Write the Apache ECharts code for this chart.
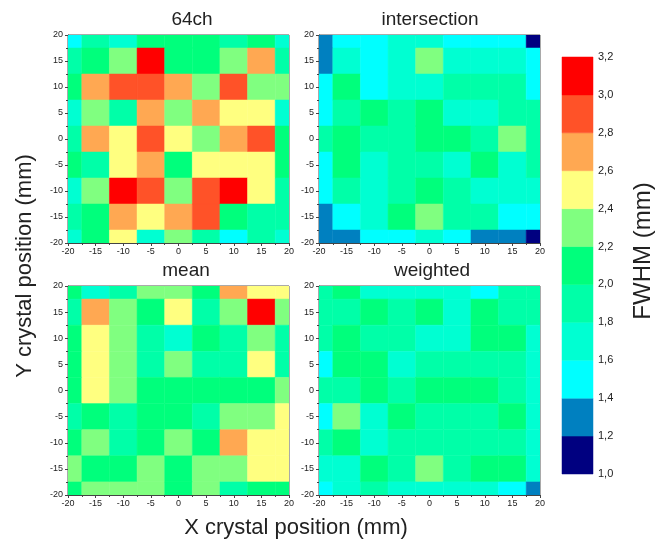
<!DOCTYPE html>
<html>
<head>
<meta charset="utf-8">
<title>FWHM maps</title>
<script src="https://cdn.jsdelivr.net/npm/echarts@6/dist/echarts.min.js"></script>
<style>
  html, body { margin: 0; padding: 0; background: #fff; }
  #chart { width: 655px; height: 539px; }
</style>
</head>
<body>
<div id="chart"></div>
<script>
// crystal positions (mm), rows are listed top (y=20) to bottom (y=-20)
const xPos = [-20, -15, -10, -5, 0, 5, 10, 15, 20];
const yPos = [20, 15, 10, 5, 0, -5, -10, -15, -20];

// FWHM (mm)
const fwhm64ch = [
  [1.5, 1.9, 1.7, 2.1, 2.1, 2.1, 1.9, 2.1, 1.7],
  [1.9, 2.1, 2.3, 3.1, 2.1, 2.1, 2.3, 2.7, 1.9],
  [2.1, 2.7, 2.9, 2.9, 2.7, 2.3, 2.9, 2.3, 2.3],
  [1.7, 2.3, 1.9, 2.7, 2.3, 2.7, 2.5, 2.5, 1.7],
  [1.9, 2.7, 2.5, 2.9, 2.5, 2.3, 2.7, 2.9, 2.1],
  [2.1, 1.9, 2.5, 2.7, 2.1, 2.5, 2.5, 2.5, 2.1],
  [1.7, 2.3, 3.1, 2.9, 2.3, 2.9, 3.1, 2.5, 1.9],
  [1.9, 2.1, 2.7, 2.5, 2.7, 2.9, 2.1, 1.9, 1.9],
  [1.7, 2.1, 2.5, 1.7, 2.3, 1.9, 1.5, 1.9, 1.7]
];
const fwhmIntersection = [
  [1.3, 1.5, 1.5, 1.7, 1.7, 1.5, 1.5, 1.5, 1.1],
  [1.3, 1.7, 1.5, 1.7, 2.3, 1.7, 1.7, 1.7, 1.5],
  [1.5, 2.1, 1.5, 1.7, 1.7, 1.9, 1.9, 1.9, 1.5],
  [1.5, 1.9, 2.1, 1.9, 2.1, 1.7, 1.7, 1.9, 1.9],
  [1.9, 2.1, 1.9, 1.9, 2.1, 2.1, 1.9, 2.3, 1.9],
  [1.5, 2.1, 1.7, 1.9, 1.9, 1.7, 2.1, 1.7, 1.9],
  [1.5, 1.9, 1.7, 1.9, 2.1, 1.9, 1.7, 1.7, 1.7],
  [1.3, 1.5, 1.7, 2.1, 2.3, 1.9, 1.9, 1.5, 1.5],
  [1.3, 1.3, 1.5, 1.5, 1.7, 1.5, 1.3, 1.3, 1.1]
];
const fwhmMean = [
  [2.1, 1.7, 1.9, 2.3, 2.3, 2.1, 2.7, 2.5, 2.5],
  [1.9, 2.7, 2.3, 2.1, 2.5, 1.9, 2.3, 3.1, 2.3],
  [2.1, 2.5, 2.3, 1.9, 1.7, 2.1, 1.9, 2.3, 1.9],
  [2.1, 2.5, 2.3, 1.9, 2.3, 1.9, 1.9, 2.5, 1.9],
  [2.1, 2.5, 2.3, 2.1, 2.1, 2.1, 2.1, 2.1, 2.3],
  [1.9, 2.1, 1.9, 2.1, 2.1, 1.9, 2.3, 2.3, 2.5],
  [2.1, 2.3, 1.9, 2.1, 2.3, 2.1, 2.7, 2.5, 2.5],
  [2.3, 2.1, 2.1, 2.3, 2.1, 2.3, 2.3, 2.5, 2.5],
  [2.1, 2.3, 2.3, 2.3, 2.1, 2.3, 1.9, 2.1, 2.1]
];
const fwhmWeighted = [
  [1.9, 2.1, 1.7, 1.7, 1.7, 1.7, 1.5, 1.9, 1.9],
  [1.9, 1.9, 2.1, 1.9, 2.1, 1.7, 2.1, 1.9, 1.9],
  [1.9, 2.1, 1.9, 1.9, 1.7, 1.7, 2.1, 2.1, 1.7],
  [1.5, 2.1, 2.1, 1.7, 1.9, 1.9, 1.9, 1.9, 1.7],
  [1.9, 1.9, 2.1, 1.9, 2.1, 2.1, 2.1, 1.9, 1.7],
  [1.5, 2.3, 1.7, 2.1, 1.9, 1.9, 1.9, 2.1, 1.7],
  [1.9, 2.1, 1.7, 1.9, 1.9, 1.9, 1.9, 1.9, 1.7],
  [1.7, 1.7, 2.1, 1.9, 2.3, 1.9, 2.1, 2.1, 1.7],
  [1.5, 1.7, 1.9, 1.7, 1.7, 1.7, 1.7, 1.5, 1.3]
];

const panelNames = ['64ch', 'intersection', 'mean', 'weighted'];
const panelData = [fwhm64ch, fwhmIntersection, fwhmMean, fwhmWeighted];

// colour scale levels and band colours
const levels = [1.0, 1.2, 1.4, 1.6, 1.8, 2.0, 2.2, 2.4, 2.6, 2.8, 3.0, 3.2];
const bandColors = ['#000080', '#0080c0', '#00ffff', '#00ffd2', '#00ffa8', '#00ff7c',
                    '#80ff80', '#ffff80', '#ffa852', '#ff5228', '#ff0000'];

const FONT = '"Liberation Sans", Arial, sans-serif';
const cellSize = 5;

const grids = [
  {left: 68, top: 35, width: 221, height: 208},
  {left: 319, top: 35, width: 221, height: 208},
  {left: 68, top: 286, width: 221, height: 209},
  {left: 319, top: 286, width: 221, height: 209}
];

function toCells(rows) {
  let out = [];
  rows.forEach(function (row, r) {
    row.forEach(function (v, c) {
      out.push([xPos[c], yPos[r], v]);
    });
  });
  return out;
}

function renderCell(params, api) {
  let x = api.value(0), y = api.value(1);
  let p1 = api.coord([x - cellSize / 2, y + cellSize / 2]);
  let p2 = api.coord([x + cellSize / 2, y - cellSize / 2]);
  let cs = params.coordSys;
  let rect = echarts.graphic.clipRectByRect(
    {x: p1[0], y: p1[1], width: p2[0] - p1[0], height: p2[1] - p1[1]},
    {x: cs.x, y: cs.y, width: cs.width, height: cs.height}
  );
  if (!rect) return;
  let color = api.visual('color');
  return {type: 'rect', shape: rect, style: {fill: color, stroke: color, lineWidth: 0.5}};
}

function renderBand(params, api) {
  let p1 = api.coord([0, api.value(1)]);
  let p2 = api.coord([1, api.value(0)]);
  let color = api.visual('color');
  return {type: 'rect', shape: {x: p1[0], y: p1[1], width: p2[0] - p1[0], height: p2[1] - p1[1]},
          style: {fill: color, stroke: color, lineWidth: 0.5}};
}

let gridOpts = [], xAxes = [], yAxes = [], series = [];
grids.forEach(function (g, i) {
  gridOpts.push(Object.assign({show: true, borderColor: '#555', borderWidth: 1,
                               backgroundColor: 'transparent'}, g));
  let axisCommon = {
    type: 'value', gridIndex: i, min: -20, max: 20, interval: 5,
    axisLine: {show: true, onZero: false, lineStyle: {color: '#444', width: 1}},
    axisTick: {show: true, length: 3, lineStyle: {color: '#444'}},
    minorTick: {show: true, splitNumber: 2, length: 2, lineStyle: {color: '#444'}},
    splitLine: {show: false},
    axisLabel: {fontSize: 9, fontFamily: FONT, color: '#222', margin: 4}
  };
  xAxes.push(Object.assign({}, axisCommon));
  yAxes.push(Object.assign({}, axisCommon, {axisLabel: Object.assign({}, axisCommon.axisLabel, {margin: 5})}));
  series.push({
    name: panelNames[i], type: 'custom', xAxisIndex: i, yAxisIndex: i,
    renderItem: renderCell, data: toCells(panelData[i]), clip: true, silent: true
  });
});

// colour bar
gridOpts.push({left: 562, top: 57, width: 31, height: 417, show: false});
xAxes.push({type: 'value', gridIndex: 4, min: 0, max: 1, show: false});
yAxes.push({
  type: 'value', gridIndex: 4, position: 'right', min: 1, max: 3.2, interval: 0.2,
  axisLine: {show: false}, axisTick: {show: false}, splitLine: {show: false},
  axisLabel: {fontSize: 11, fontFamily: FONT, color: '#222', margin: 5,
              formatter: function (v) { return v.toFixed(1).replace('.', ','); }}
});
let bands = [];
for (let i = 0; i < levels.length - 1; i++) {
  bands.push([levels[i], levels[i + 1], (levels[i] + levels[i + 1]) / 2]);
}
series.push({type: 'custom', xAxisIndex: 4, yAxisIndex: 4, renderItem: renderBand,
             data: bands, silent: true});

let pieces = bandColors.map(function (c, i) {
  return {gte: levels[i], lt: levels[i + 1], color: c};
});

let titleTexts = [
  {text: '64ch', x: 192, y: 20},
  {text: 'intersection', x: 430, y: 20},
  {text: 'mean', x: 186, y: 271},
  {text: 'weighted', x: 432, y: 271}
].map(function (t) {
  return {type: 'text', x: t.x, y: t.y, silent: true,
          style: {text: t.text, fontSize: 19, fontFamily: FONT, fill: '#222',
                  align: 'center', verticalAlign: 'middle'}};
});

let chart = echarts.init(document.getElementById('chart'), null, {renderer: 'canvas'});
chart.setOption({
  animation: false,
  backgroundColor: '#fff',
  grid: gridOpts,
  xAxis: xAxes,
  yAxis: yAxes,
  visualMap: {type: 'piecewise', show: false, dimension: 2,
              seriesIndex: [0, 1, 2, 3, 4], pieces: pieces},
  series: series,
  graphic: titleTexts.concat([
    {type: 'text', x: 296, y: 528, silent: true,
     style: {text: 'X crystal position (mm)', fontSize: 22, fontFamily: FONT, fill: '#222',
             align: 'center', verticalAlign: 'middle'}},
    {type: 'text', x: 25, y: 266, rotation: Math.PI / 2, silent: true,
     style: {text: 'Y crystal position (mm)', fontSize: 22, fontFamily: FONT, fill: '#222',
             align: 'center', verticalAlign: 'middle'}},
    {type: 'text', x: 643, y: 251, rotation: Math.PI / 2, silent: true,
     style: {text: 'FWHM (mm)', fontSize: 24, fontFamily: FONT, fill: '#222',
             align: 'center', verticalAlign: 'middle'}}
  ])
});
</script>
</body>
</html>
